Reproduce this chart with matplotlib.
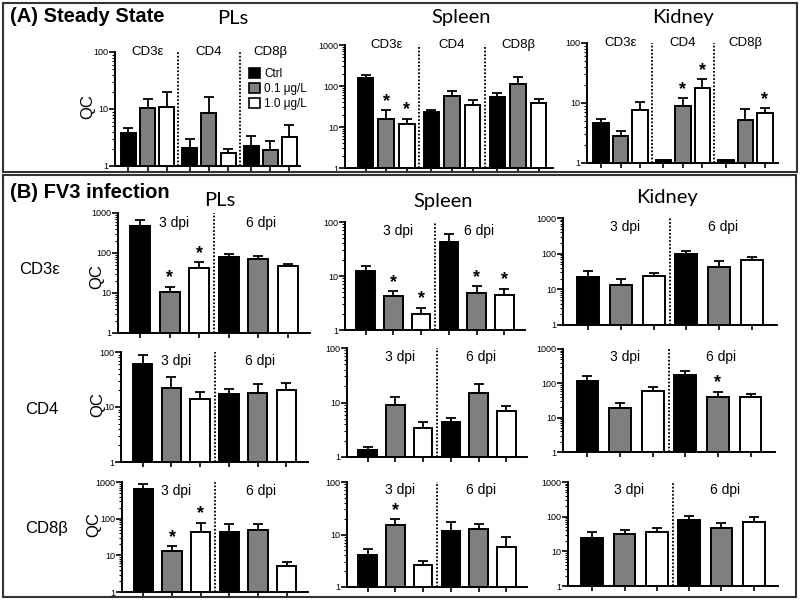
import matplotlib
matplotlib.use("Agg")
import matplotlib.pyplot as plt
from matplotlib.patches import Patch, Rectangle
from matplotlib.ticker import LogLocator, FuncFormatter, NullFormatter
import numpy as np

plt.rcParams['font.family'] = ['Liberation Sans', 'DejaVu Sans']

treat_labels = ['Ctrl', '0.1 \u03bcg/L', '1.0 \u03bcg/L']
treat_colors = ['black', '#7f7f7f', 'white']
genes = ['CD3\u03b5', 'CD4', 'CD8\u03b2']
days = ['3 dpi', '6 dpi']

# (A) steady state: CD3e (Ctrl, 0.1, 1.0), CD4 (...), CD8b (...)
a_pls = [3.8, 10.5, 11, 2.1, 8.5, 1.7, 2.2, 1.9, 3.2]
a_pls_hi = [4.7, 15, 20, 3.0, 16, 2.0, 3.4, 2.7, 5.3]
a_pls_star = []
a_spl = [160, 16, 12, 23, 57, 34, 54, 112, 38]
a_spl_hi = [190, 26, 16, 26, 75, 46, 67, 165, 48]
a_spl_star = [1, 2]
a_kid = [4.7, 2.8, 7.5, 1.12, 9, 17.5, 1.12, 5.2, 6.8]
a_kid_hi = [5.4, 3.4, 10.5, 1.12, 12, 25, 1.12, 7.8, 8.2]
a_kid_star = [4, 5, 8]

# (B) FV3 infection: 3 dpi (Ctrl, 0.1, 1.0), 6 dpi (Ctrl, 0.1, 1.0)
b_cd3_pls = [480, 10.5, 42, 78, 72, 48]
b_cd3_pls_hi = [650, 14.5, 58, 95, 85, 52]
b_cd3_pls_star = [1, 2]
b_cd3_spl = [12.5, 4.3, 2.0, 43, 4.8, 4.5]
b_cd3_spl_hi = [15, 5.2, 2.6, 60, 6.5, 5.8]
b_cd3_spl_star = [1, 2, 4, 5]
b_cd3_kid = [22, 13.5, 23, 95, 42, 65]
b_cd3_kid_hi = [33, 19, 29, 120, 62, 80]
b_cd3_kid_star = []

b_cd4_pls = [60, 22, 14, 17, 18, 20]
b_cd4_pls_hi = [90, 35, 19, 21, 26, 27]
b_cd4_pls_star = []
b_cd4_spl = [1.35, 9, 3.4, 4.4, 15, 7]
b_cd4_spl_hi = [1.5, 12.5, 4.4, 5.2, 22, 8.8]
b_cd4_spl_star = []
b_cd4_kid = [115, 19, 58, 170, 40, 40]
b_cd4_kid_hi = [160, 26, 76, 235, 57, 50]
b_cd4_kid_star = [4]

b_cd8_pls = [650, 13, 43, 43, 50, 5.2]
b_cd8_pls_hi = [900, 18, 78, 72, 72, 6.5]
b_cd8_pls_star = [1, 2]
b_cd8_spl = [4.1, 15.5, 2.6, 11.5, 12.5, 5.8]
b_cd8_spl_hi = [5.4, 19.5, 3.1, 17, 16, 8.8]
b_cd8_spl_star = [1]
b_cd8_kid = [24, 31, 35, 82, 48, 70]
b_cd8_kid_hi = [35, 42, 46, 103, 66, 95]
b_cd8_kid_star = []

W, H = 800, 602
fig = plt.figure(figsize=(8, 6.02), dpi=100)


def box(l, r, t, b):
    return [l / W, 1 - b / H, (r - l) / W, (b - t) / H]


def draw(rect, vals, hi, stars, ymax, xlim, pos, bw, seps, labels, lab_x, lab_y, labsize):
    ax = fig.add_axes(box(*rect))
    vals = np.array(vals)
    hi = np.array(hi)
    cols = [treat_colors[i % 3] for i in range(len(vals))]
    ax.bar(pos, vals - 1, bottom=1, width=bw, color=cols, edgecolor='black', linewidth=1.4, zorder=3)
    m = hi > vals
    ax.errorbar(np.array(pos)[m], vals[m], yerr=[np.zeros(m.sum()), (hi - vals)[m]], fmt='none',
                ecolor='black', elinewidth=1.3, capsize=3.5, capthick=1.3, zorder=2)
    for i in stars:
        ax.text(pos[i], hi[i] * 1.02, '*', ha='center', va='bottom', fontsize=13,
                fontweight='bold', zorder=4)
    ax.set_yscale('log')
    ax.set_ylim(1, ymax)
    ax.set_xlim(*xlim)
    for s in seps:
        ax.axvline(s, color='black', ls=(0, (1, 1)), lw=1.3)
    for lab, x in zip(labels, lab_x):
        ax.text(x, lab_y, lab, transform=ax.get_xaxis_transform(), ha='center', va='center',
                fontsize=labsize, clip_on=False)
    for side in ['top', 'right']:
        ax.spines[side].set_visible(False)
    for side in ['left', 'bottom']:
        ax.spines[side].set_linewidth(1.4)
    ax.set_xticks(pos)
    ax.set_xticklabels([])
    ax.tick_params(axis='x', length=3.5, width=1.2, direction='out')
    ax.yaxis.set_major_locator(LogLocator(base=10))
    ax.yaxis.set_minor_locator(LogLocator(base=10, subs=range(2, 10)))
    ax.yaxis.set_minor_formatter(NullFormatter())
    ax.yaxis.set_major_formatter(FuncFormatter(lambda v, p: '%d' % round(v)))
    ax.tick_params(axis='y', which='major', length=4, width=1.2, labelsize=6.5, pad=1)
    ax.tick_params(axis='y', which='minor', length=2, width=0.8)
    ax.patch.set_alpha(0)
    return ax


# panel A
pos_a = [0, 1, 2, 3.2, 4.2, 5.2, 6.4, 7.4, 8.4]
seps_a = [2.6, 5.8]
labx_a = [1, 4.2, 7.4]
draw((115, 300, 52, 166), a_pls, a_pls_hi, a_pls_star, 100, (-0.7, 8.95), pos_a, 0.78, seps_a, genes, labx_a, 1.0, 9.5)
draw((345, 553, 45, 168), a_spl, a_spl_hi, a_spl_star, 1000, (-1.0, 9.1), pos_a, 0.75, seps_a, genes, labx_a, 1.0, 9.5)
draw((587, 778, 43, 163), a_kid, a_kid_hi, a_kid_star, 100, (-0.72, 9.07), pos_a, 0.78, seps_a, genes, labx_a, 1.0, 9.5)

# panel B
pos_b = [0, 1, 2, 3, 4, 5]
xl_b = (-0.75, 5.75)
labx_b = [1.15, 4.1]
rows = [
    [((118, 310, 213, 333), b_cd3_pls, b_cd3_pls_hi, b_cd3_pls_star, 1000),
     ((345, 525, 222, 330), b_cd3_spl, b_cd3_spl_hi, b_cd3_spl_star, 100),
     ((563, 777, 218, 325), b_cd3_kid, b_cd3_kid_hi, b_cd3_kid_star, 1000)],
    [((121, 308, 352, 462), b_cd4_pls, b_cd4_pls_hi, b_cd4_pls_star, 100),
     ((347, 527, 348, 457), b_cd4_spl, b_cd4_spl_hi, b_cd4_spl_star, 100),
     ((563, 775, 349, 452), b_cd4_kid, b_cd4_kid_hi, b_cd4_kid_star, 1000)],
    [((122, 308, 482, 592), b_cd8_pls, b_cd8_pls_hi, b_cd8_pls_star, 1000),
     ((347, 527, 482, 587), b_cd8_spl, b_cd8_spl_hi, b_cd8_spl_star, 100),
     ((568, 778, 482, 586), b_cd8_kid, b_cd8_kid_hi, b_cd8_kid_star, 1000)],
]
for row in rows:
    for rect, v, h, st, ym in row:
        draw(rect, v, h, st, ym, xl_b, pos_b, 0.67, [2.5], days, labx_b, 0.92, 10)

# QC labels
for x, y in [(88, 107), (97, 277), (98, 405), (94, 525)]:
    fig.text(x / W, 1 - y / H, 'QC', rotation=90, ha='center', va='center', fontsize=12)

# row labels
for lab, x, y in zip(genes, [39, 42, 47], [270, 410, 528]):
    fig.text(x / W, 1 - y / H, lab, ha='center', va='center', fontsize=12)

# titles
fig.text(10 / W, 1 - 16 / H, '(A) Steady State', fontsize=14.5, fontweight='bold', va='center')
fig.text(10 / W, 1 - 193 / H, '(B) FV3 infection', fontsize=14.5, fontweight='bold', va='center')
for lab, x, y in [('PLs', 233, 18), ('Spleen', 461, 17), ('Kidney', 683, 17),
                  ('PLs', 220, 200), ('Spleen', 443, 201), ('Kidney', 667, 197)]:
    fig.text(x / W, 1 - y / H, lab, ha='center', va='center', fontsize=14.5, family=['Lato', 'DejaVu Sans'])

# legend
handles = [Patch(facecolor=c, edgecolor='black', linewidth=1.2) for c in treat_colors]
fig.legend(handles, treat_labels, loc='upper left', bbox_to_anchor=(249 / W, 1 - 68 / H), frameon=False,
           fontsize=8.5, handlelength=0.9, handleheight=0.9, labelspacing=0.25, handletextpad=0.4,
           borderpad=0, borderaxespad=0)

# panel frames
for l, t, r, b in [(3, 3, 797, 172), (3, 175, 796, 597)]:
    fig.patches.append(Rectangle((l / W, 1 - b / H), (r - l) / W, (b - t) / H, transform=fig.transFigure,
                                 fill=False, edgecolor='#333333', linewidth=1.5))

fig.savefig('out.png', dpi=100)
